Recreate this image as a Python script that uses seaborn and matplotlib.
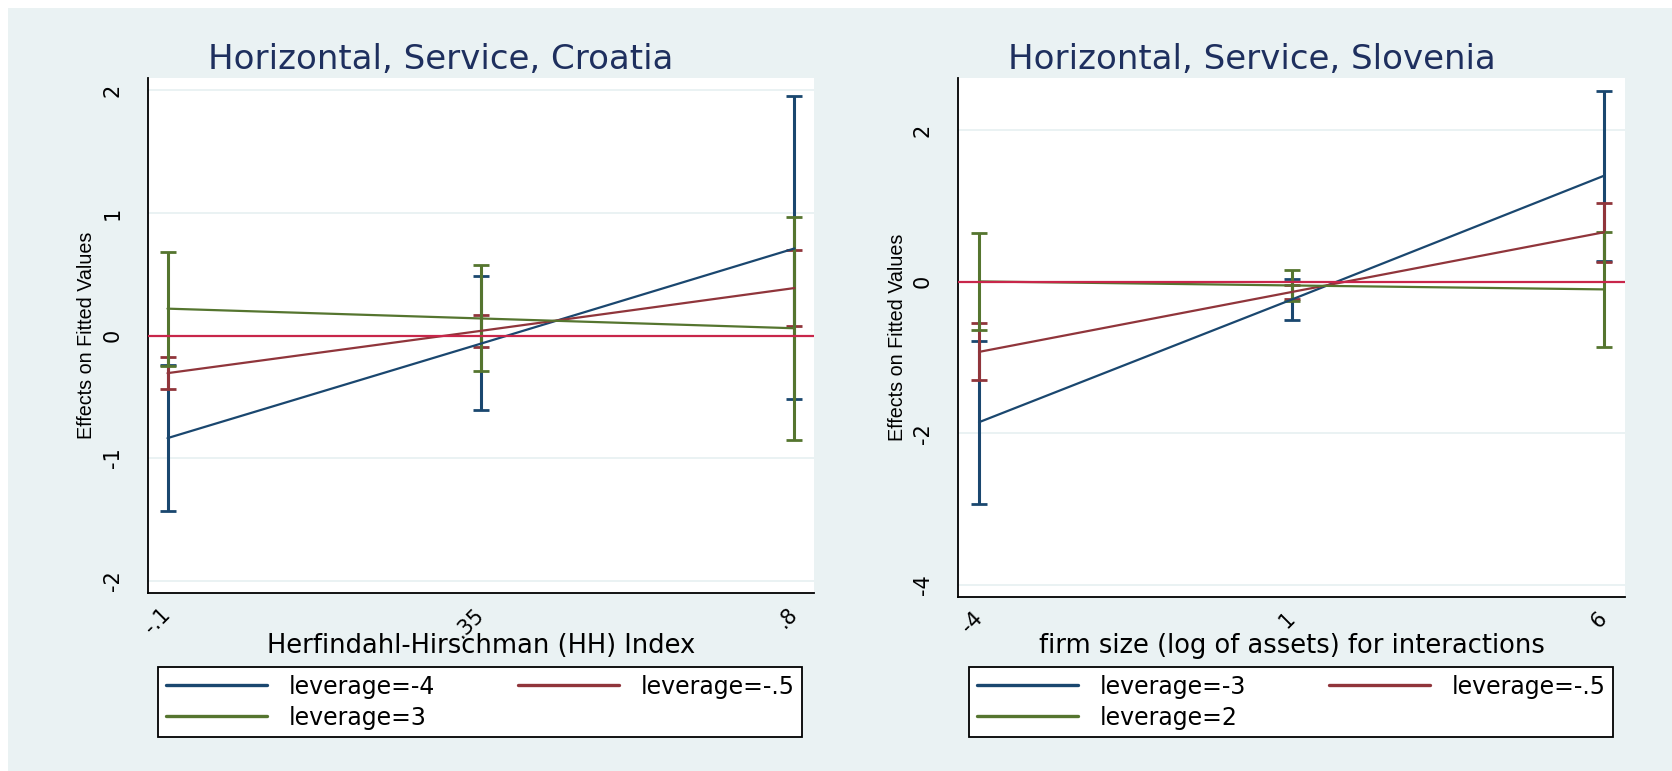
import numpy as np
import pandas as pd
import matplotlib
matplotlib.use("Agg")
import matplotlib.pyplot as plt
from matplotlib.lines import Line2D
from matplotlib.patches import Rectangle
import seaborn as sns

# ---- data ----
# Croatia: HH index
hh_x = [-0.1, 0.35, 0.8]
hh_ticklabels = ["-.1", ".35", ".8"]
hr_fit_m4 = [-0.837, -0.066, 0.71]
hr_lo_m4 = [-1.435, -0.61, -0.52]
hr_hi_m4 = [-0.24, 0.489, 1.95]
hr_fit_m05 = [-0.307, 0.038, 0.387]
hr_lo_m05 = [-0.44, -0.09, 0.075]
hr_hi_m05 = [-0.175, 0.166, 0.698]
hr_fit_3 = [0.219, 0.139, 0.059]
hr_lo_3 = [-0.245, -0.293, -0.852]
hr_hi_3 = [0.683, 0.571, 0.97]
hr_labels = ["leverage=-4", "leverage=-.5", "leverage=3"]
hr_yticks = [-2, -1, 0, 1, 2]

# Slovenia: firm size
si_x = [-4, 1, 6]
si_ticklabels = ["-4", "1", "6"]
si_fit_m3 = [-1.853, -0.235, 1.40]
si_lo_m3 = [-2.93, -0.50, 0.278]
si_hi_m3 = [-0.78, 0.033, 2.52]
si_fit_m05 = [-0.925, -0.135, 0.654]
si_lo_m05 = [-1.30, -0.23, 0.263]
si_hi_m05 = [-0.55, -0.04, 1.044]
si_fit_2 = [0.005, -0.048, -0.10]
si_lo_2 = [-0.638, -0.253, -0.857]
si_hi_2 = [0.648, 0.157, 0.657]
si_labels = ["leverage=-3", "leverage=-.5", "leverage=2"]
si_yticks = [-4, -2, 0, 2]

colors = ["#1A476F", "#90353B", "#55752F"]
bg = "#EAF2F3"
zero_col = "#C8264A"
title_col = "#1E2F5E"

sns.set_style("white")
plt.rcParams['font.family'] = ['DejaVu Sans']
plt.rcParams['text.color'] = 'black'
plt.rcParams['xtick.color'] = 'black'
plt.rcParams['ytick.color'] = 'black'

W, H = 1672, 771
fig = plt.figure(figsize=(W / 100, H / 100), dpi=100, facecolor="white")
fig.patches.append(Rectangle((8 / W, 0), 1 - 8 / W, 1 - 8 / H, transform=fig.transFigure,
                             facecolor=bg, edgecolor="none", zorder=-10))


def panel(rect, x, fits, los, his, labels, xtl, yticks, xlim, ylim,
          title, title_x, xlabel, ylab_x, leg_rect):
    ax = fig.add_axes([rect[0] / W, 1 - rect[3] / H, (rect[2] - rect[0]) / W, (rect[3] - rect[1]) / H])
    ax.set_facecolor("white")
    rows = []
    for lab, f in zip(labels, fits):
        for xi, fi in zip(x, f):
            rows.append({"x": xi, "fit": fi, "series": lab})
    df = pd.DataFrame(rows)
    for c, f, lo, hi in zip(colors, fits, los, his):
        f = np.array(f)
        ax.errorbar(x, f, yerr=[f - np.array(lo), np.array(hi) - f], fmt="none",
                    ecolor=c, elinewidth=2.2, capsize=5.8, capthick=2.0, zorder=3)
    sns.lineplot(data=df, x="x", y="fit", hue="series", palette=colors, ax=ax,
                 legend=False, linewidth=1.6, zorder=3.5)
    ax.axhline(0, color=zero_col, lw=1.6, zorder=4)
    ax.set_xlim(xlim)
    ax.set_ylim(ylim)
    ax.set_xticks(x)
    ax.set_xticklabels(xtl, rotation=45, ha="right", va="center", rotation_mode="anchor")
    ax.set_yticks(yticks)
    ax.set_yticklabels([str(t) for t in yticks], rotation=90, va="center")
    ax.tick_params(axis="both", length=9, width=1.1, color="black", labelsize=15, pad=9)
    ax.tick_params(axis="x", labelsize=15, pad=4)
    ax.yaxis.grid(True, color=bg, lw=1.4)
    ax.xaxis.grid(False)
    for s in ["top", "right"]:
        ax.spines[s].set_visible(False)
    for s in ["left", "bottom"]:
        ax.spines[s].set_color("black")
        ax.spines[s].set_linewidth(1.3)
    ax.set_xlabel("")
    ax.set_ylabel("")
    cx = (rect[0] + rect[2]) / 2
    cy = (rect[1] + rect[3]) / 2
    fig.text(title_x / W, 1 - 69 / H, title, color=title_col, fontsize=24.5, ha="center", va="baseline")
    fig.text(cx / W, 1 - 653 / H, xlabel, fontsize=18.5, ha="center", va="baseline")
    fig.text(ylab_x / W, 1 - cy / H, "Effects on Fitted Values", fontsize=14.2,
             family="Liberation Sans", rotation=90, ha="center", va="center")
    handles = [Line2D([], [], color=c, lw=2.4) for c in colors]
    order = [0, 2, 1]
    leg = ax.legend([handles[i] for i in order], [labels[i] for i in order], ncol=2,
                    loc="upper left", mode="expand",
                    bbox_to_anchor=(leg_rect[0] / W, 1 - leg_rect[1] / H,
                                    (leg_rect[2] - leg_rect[0]) / W, 0.0),
                    bbox_transform=fig.transFigure, fontsize=17, frameon=True,
                    fancybox=False, borderpad=0.32, labelspacing=0.3,
                    handlelength=4.3, handletextpad=0.9, borderaxespad=0)
    leg.get_frame().set_edgecolor("black")
    leg.get_frame().set_linewidth(1.3)
    leg.get_frame().set_facecolor("white")
    leg.get_frame().set_alpha(1)
    return ax


panel((148, 78, 814, 593), hh_x, [hr_fit_m4, hr_fit_m05, hr_fit_3],
      [hr_lo_m4, hr_lo_m05, hr_lo_3], [hr_hi_m4, hr_hi_m05, hr_hi_3], hr_labels,
      hh_ticklabels, hr_yticks, (-0.128, 0.828), (-2.1, 2.1),
      "Horizontal, Service, Croatia", 441, "Herfindahl-Hirschman (HH) Index",
      87, (158, 667, 802, 735))

panel((958, 78, 1625, 597), si_x, [si_fit_m3, si_fit_m05, si_fit_2],
      [si_lo_m3, si_lo_m05, si_lo_2], [si_hi_m3, si_hi_m05, si_hi_2], si_labels,
      si_ticklabels, si_yticks, (-4.336, 6.336), (-4.16, 2.69),
      "Horizontal, Service, Slovenia", 1252, "firm size (log of assets) for interactions",
      897, (969, 667, 1613, 735))

fig.savefig("out.png", dpi=100, facecolor=fig.get_facecolor())
